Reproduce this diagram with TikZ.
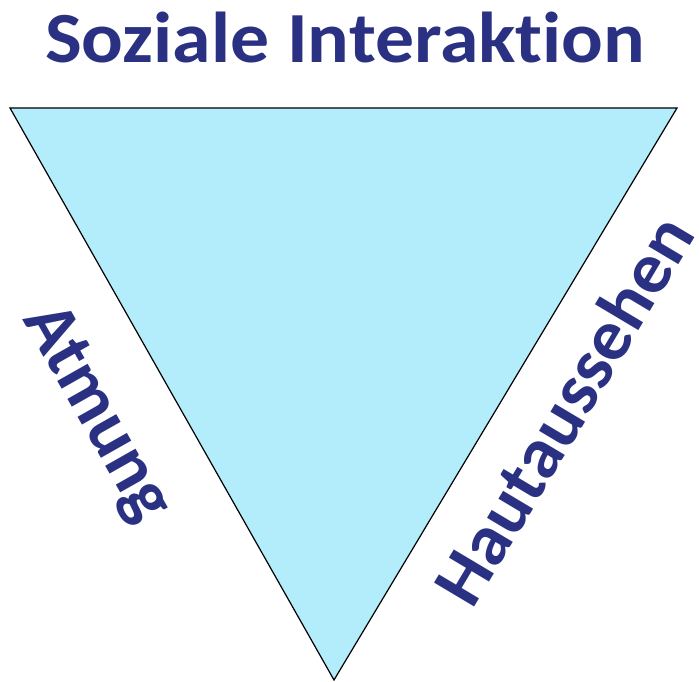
\documentclass[tikz,border=0pt]{standalone}
\usepackage{fontspec}
\setmainfont[Ligatures=NoCommon]{Carlito}
\definecolor{navy}{HTML}{2A3182}
\definecolor{tri}{HTML}{B3ECFB}
\begin{document}
\begin{tikzpicture}[x=1pt,y=1pt,
  lbl/.style={text=navy,font=\bfseries\fontsize{72}{80}\selectfont,inner sep=0pt}]
\useasboundingbox (0,0) rectangle (699,682);
\coordinate (tl) at (10,574);
\coordinate (tr) at (677,574);
\coordinate (bt) at (334,2);
\draw[fill=tri,line width=1.2pt,line join=miter] (tl) -- (tr) -- (bt) -- cycle;
\node[lbl] (title) at (345,644) {\scalebox{1.08}[1]{Soziale Interaktion}};
\node[lbl,rotate=-60.5] (atm) at (96,268) {Atmung};
\node[lbl,rotate=59.2] (haut) at (563,272) {\scalebox{1.03}[1]{Hautaussehen}};
\end{tikzpicture}
\end{document}
